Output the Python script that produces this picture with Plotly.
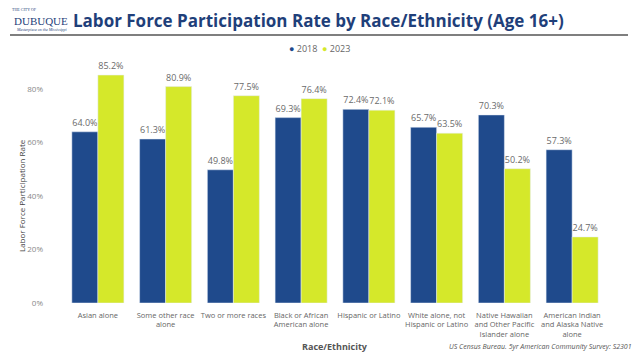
import plotly.graph_objects as go

categories = ["Asian alone", "Some other race<br>alone", "Two or more races",
              "Black or African<br>American alone", "Hispanic or Latino",
              "White alone, not<br>Hispanic or Latino",
              "Native Hawaiian<br>and Other Pacific<br>Islander alone",
              "American Indian<br>and Alaska Native<br>alone"]
rate_2018 = [64.0, 61.3, 49.8, 69.3, 72.4, 65.7, 70.3, 57.3]
rate_2023 = [85.2, 80.9, 77.5, 76.4, 72.1, 63.5, 50.2, 24.7]
y_ticks = [0, 20, 40, 60, 80]

BLUE = "#1F4A8C"
YELLOW = "#D5E82A"
FONT = "Open Sans"

W, H = 640, 360
L, R, T, B = 64, 34, 64, 57
pw, ph = W - L - R, H - T - B

def px(x):
    return (x - L) / pw

def py(y):
    return (H - B - y) / ph

fig = go.Figure()
fig.add_bar(x=categories, y=rate_2018, name="2018", marker_color=BLUE,
            text=[f"{v:.1f}%" for v in rate_2018], textposition="outside",
            textfont=dict(size=9, color="#6A6A6A", family=FONT),
            cliponaxis=False, showlegend=False)
fig.add_bar(x=categories, y=rate_2023, name="2023", marker_color=YELLOW,
            text=[f"{v:.1f}%" for v in rate_2023], textposition="outside",
            textfont=dict(size=9, color="#6A6A6A", family=FONT),
            cliponaxis=False, showlegend=False)

fig.update_layout(
    width=W, height=H,
    margin=dict(l=L, r=R, t=T, b=B),
    paper_bgcolor="white", plot_bgcolor="white",
    barmode="group", bargap=0.232, bargroupgap=0,
    font=dict(family=FONT, color="#666666"),
    showlegend=False,
)
fig.update_xaxes(showgrid=False, showline=False, zeroline=False, ticks="",
                 tickfont=dict(size=7.5, color="#666666"), tickangle=0,
                 ticklabelstandoff=6)
fig.update_yaxes(range=[0, ph / 2.675], tickvals=y_ticks,
                 ticktext=[f"{v}%" for v in y_ticks], showgrid=False, zeroline=False,
                 showline=False, tickfont=dict(size=8, color="#888888"),
                 ticklabelstandoff=20)

def ann(text, x, y, size, color, family=FONT, xanchor="center", yanchor="middle", angle=0):
    fig.add_annotation(text=text, xref="paper", yref="paper", x=px(x), y=py(y),
                       xanchor=xanchor, yanchor=yanchor, showarrow=False, textangle=angle,
                       borderpad=0, font=dict(size=size, color=color, family=family))

# title
ann("<b>Labor Force Participation Rate by Race/Ethnicity (Age 16+)</b>", 72, 21, 17,
    "#1F3F7A", xanchor="left")
# logo
ann("THE CITY OF", 24, 10, 4, "#1F3F7A", family="Liberation Serif")
ann("DUBUQUE", 41, 21, 11, "#1F3F7A", family="Liberation Serif")
ann("<i>Masterpiece on the Mississippi</i>", 41, 29, 4, "#1F3F7A", family="Liberation Serif")
# rule under title
fig.add_shape(type="line", xref="paper", yref="paper", x0=px(10), x1=px(628),
              y0=py(35), y1=py(35), line=dict(color="#7F7F7F", width=2))
# legend
ann(f'<span style="color:{BLUE}">●</span> 2018  <span style="color:{YELLOW}">●</span> 2023',
    319, 48, 9, "#666666")
# y axis title
ann("Labor Force Participation Rate", 21, 196, 8, "#444444", angle=-90)
# x axis title
ann("<b>Race/Ethnicity</b>", 335, 346, 9, "#555555")
# source
ann("<i>US Census Bureau. 5yr American Community Survey: S2301</i>", 633, 346, 7,
    "#555555", xanchor="right")

fig.write_html("out.html", config={"displayModeBar": False},
               post_script="document.body.style.margin='0';")
